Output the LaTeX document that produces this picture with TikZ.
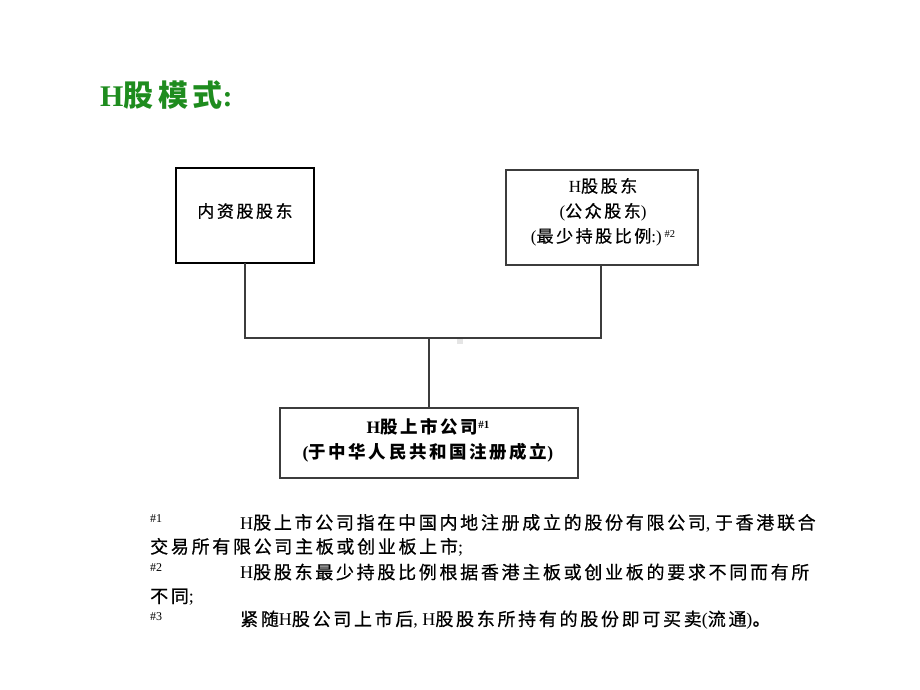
\documentclass[tikz,border=0pt]{standalone}
\usepackage{fontspec}
\setmainfont{Liberation Serif}
\newfontfamily\cjk{Noto Sans CJK SC}[LetterSpace=15, UprightFeatures={FakeBold=0.6}]
\newcommand{\zh}[1]{{\cjk #1}}
\definecolor{titlegreen}{RGB}{30,140,30}
\definecolor{linegray}{RGB}{60,60,60}
\begin{document}
\begin{tikzpicture}[x=1pt,y=-1pt,
  boxtext/.style={font=\fontsize{17}{25}\selectfont, align=center},
  conn/.style={draw=linegray, line width=1.2pt},
  fn/.style={anchor=west, font=\fontsize{18}{24}\selectfont, inner sep=0pt},
  fnmark/.style={anchor=west, font=\fontsize{12}{12}\selectfont, inner sep=0pt}]
\useasboundingbox (0,0) rectangle (920,690);
% title
\node[anchor=west, inner sep=0pt, text=titlegreen, font=\fontsize{30}{32}\selectfont\bfseries] (title) at (100,95) {H\zh{股模式}:};
% boxes
\draw[draw=black, line width=1.2pt] (176,168) rectangle (314,263);
\coordinate (b1) at (245,263);
\node[boxtext] (t1) at (245,211) {\zh{内资股股东}};
\draw[draw=linegray, line width=1.2pt] (506,170) rectangle (698,265);
\coordinate (b2) at (601,265);
\node[boxtext] (t2) at (603,212) {H\zh{股股东}\\(\zh{公众股东})\\(\zh{最少持股比例}:)\,\raisebox{0.6ex}{\fontsize{10.5}{10}\selectfont\#2}};
\draw[draw=linegray, line width=1.2pt] (280,408) rectangle (578,478);
\coordinate (b3) at (429,408);
\node[boxtext, font=\fontsize{17.5}{25}\selectfont\bfseries] (t3) at (428,440) {H\zh{股上市公司}\raisebox{0.6ex}{\fontsize{11}{10}\selectfont\#1}\\(\zh{于中华人民共和国注册成立})};
% connectors
\coordinate (j1) at (245,338);
\coordinate (j2) at (601,338);
\coordinate (j3) at (429,338);
\draw[conn] (b1) -- (j1) -- (j2) -- (b2);
\draw[conn] (j3) -- (b3);
\fill[gray!20] (457,339) rectangle (463,344);
% footnotes
\node[fnmark] (m1) at (150,519) {\#1};
\node[fn] (f1) at (240,523) {H\zh{股上市公司指在中国内地注册成立的股份有限公司}, \zh{于香港联合}};
\node[fn] (f1b) at (150,547) {\zh{交易所有限公司主板或创业板上市};};
\node[fnmark] (m2) at (150,568) {\#2};
\node[fn] (f2) at (240,572) {H\zh{股股东最少持股比例根据香港主板或创业板的要求不同而有所}};
\node[fn] (f2b) at (150,597) {\zh{不同};};
\node[fnmark] (m3) at (150,617) {\#3};
\node[fn] (f3) at (240,620) {\zh{紧随}H\zh{股公司上市后}, H\zh{股股东所持有的股份即可买卖}(\zh{流通})\zh{。}};
\end{tikzpicture}
\end{document}
